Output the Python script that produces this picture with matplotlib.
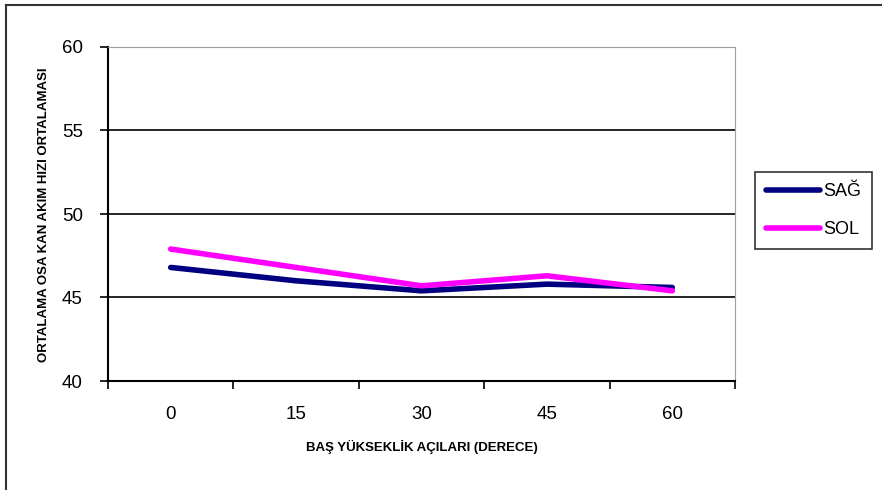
import numpy as np
import matplotlib.pyplot as plt
from matplotlib.lines import Line2D

# Data
angles = ['0', '15', '30', '45', '60']
sag = [46.8, 46.0, 45.4, 45.8, 45.6]
sol = [47.9, 46.8, 45.7, 46.3, 45.4]

plt.rcParams['font.family'] = ['Liberation Sans', 'DejaVu Sans']

fig = plt.figure(figsize=(8.82, 4.9), dpi=100)
ax = fig.add_axes([108/882, 1 - 381/490, (735 - 108)/882, (381 - 47)/490])

x = np.arange(len(angles))
ax.plot(x, sag, color='#000080', lw=4, solid_capstyle='round', label='SAĞ')
ax.plot(x, sol, color='#ff00ff', lw=4, solid_capstyle='round', label='SOL')

ax.set_xlim(-0.5, len(angles) - 0.5)
ax.set_ylim(40, 60)
ax.set_yticks([40, 45, 50, 55, 60])
ax.set_xticks(x)
ax.set_xticklabels(angles)
ax.tick_params(axis='x', length=0, pad=18, labelsize=13.5)
ax.tick_params(axis='y', length=6, width=1.2, direction='out', pad=12, labelsize=13.5)

# category boundary ticks on x axis
ax.set_xticks(np.arange(-0.5, len(angles)), minor=True)
ax.tick_params(axis='x', which='minor', length=6, width=1.2, direction='out')

for yv in [45, 50, 55]:
    ax.axhline(yv, color='black', lw=1.2, zorder=0)

ax.spines['left'].set_color('black')
ax.spines['left'].set_linewidth(1.5)
ax.spines['bottom'].set_color('black')
ax.spines['bottom'].set_linewidth(1.5)
ax.spines['top'].set_color('#a0a0a0')
ax.spines['right'].set_color('#a0a0a0')

ax.set_xlabel('BAŞ YÜKSEKLİK AÇILARI (DERECE)', fontsize=9.5, fontweight='bold', labelpad=12)
fig.text(44/882, 1 - 215/490, 'ORTALAMA OSA KAN AKIM HIZI ORTALAMASI', rotation=90,
         fontsize=9.5, fontweight='bold', ha='center', va='center')

leg = fig.legend(loc='upper left', bbox_to_anchor=(755/882, 1 - 172/490),
                 fontsize=13, frameon=True, fancybox=False, edgecolor='black',
                 handlelength=3.0, handletextpad=0.15, borderpad=0.6, labelspacing=1.2,
                 borderaxespad=0)
leg.get_frame().set_linewidth(1.2)

# outer chart border (left and top visible)
fig.add_artist(Line2D([6/882, 6/882], [0, 1 - 5/490], color='#333333', lw=1.5))
fig.add_artist(Line2D([6/882, 1], [1 - 5/490, 1 - 5/490], color='#333333', lw=1.5))

fig.savefig('out.png', dpi=100)
